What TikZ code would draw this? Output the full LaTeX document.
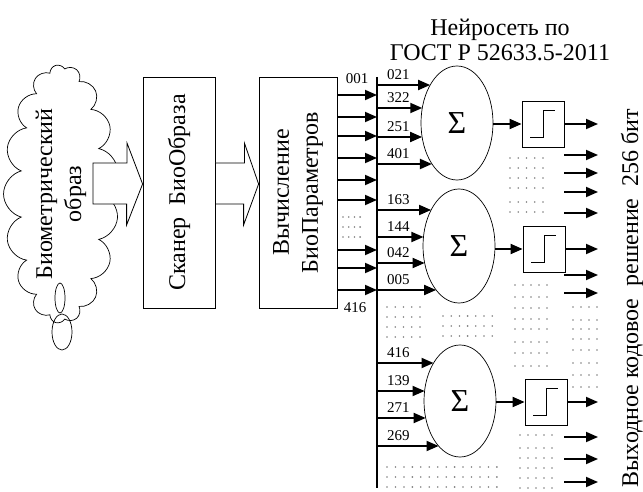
\documentclass[tikz,border=0pt]{standalone}
\usepackage{fontspec}
\setmainfont{Liberation Serif}
\usetikzlibrary{arrows.meta, shapes.geometric, shapes.symbols}

% rows of grey dots: first x, number of columns, column step, list of row y
\newcommand{\dotrows}[4]{%
    \foreach \r in {#4}{%
        \foreach \c in {1,...,#2}{%
            \fill[gray] ({#1+(\c-1)*#3}, \r) circle (0.9pt);
        }
    }%
}

\begin{document}
\begin{tikzpicture}[x=1pt, y=-1pt,
    wire/.style={line width=1.8pt, -{Triangle[length=12pt, width=10pt]}},
    numlabel/.style={font=\fontsize{15}{15}\selectfont, inner sep=0pt},
    bigtext/.style={font=\fontsize{24}{29}\selectfont, align=center},
    neuron/.style={draw, ellipse, line width=0.7pt, minimum width=72pt, minimum height=114pt, inner sep=0pt, font=\fontsize{32}{32}\selectfont},
    stepbox/.style={draw, line width=0.8pt, minimum width=42pt, minimum height=46pt, inner sep=0pt}]
    \useasboundingbox (0,0) rectangle (643,492);
    \pgfmathsetmacro{\rx}{36}
    \pgfmathsetmacro{\ry}{57}

    % Source and the two blocks
    \node[draw, cloud, cloud puffs=17, cloud ignores aspect, rotate=90, minimum width=258pt, minimum height=98pt, line width=0.7pt, bigtext] (cloud) at (61,194) {Биометрический\\образ};
    \draw[line width=0.7pt] (60,298) ellipse (5pt and 15pt);
    \draw[line width=0.7pt] (62,332) ellipse (10pt and 18pt);
    \node[draw, line width=0.8pt, minimum width=231pt, minimum height=72pt, rotate=90, bigtext] (scan) at (179,192.5) {Сканер~ БиоОбраза};
    \node[draw, line width=0.8pt, minimum width=231pt, minimum height=78pt, rotate=90, bigtext] (calc) at (298,192.5) {Вычисление\\БиоПараметров};

    % Block arrows
    \draw[line width=0.8pt, fill=white] (93,163) -- ++(34,0) -- ++(0,-20) -- (scan.north |- 0,184) -- ++(-16,41) -- ++(0,-21) -- (93,204) -- cycle;
    \draw[line width=0.8pt, fill=white] (scan.south |- 0,163) -- ++(29,0) -- ++(0,-20) -- (calc.north |- 0,184) -- ++(-15,41) -- ++(0,-21) -- (scan.south |- 0,204) -- cycle;

    % Bus
    \coordinate (bustop) at (377,77);
    \coordinate (busbot) at (377,488);
    \draw[line width=2pt] (bustop) -- (busbot);
    \foreach \y in {95,117,136,158,180,200,250,268,290}{
        \draw[wire] (calc.south |- 0,\y) -- (bustop |- 0,\y);
    }
    \node[numlabel] at (357,79) {001};
    \node[numlabel] at (355,308) {416};
    \dotrows{343}{4}{5.7}{217,227,237}

    % Title
    \node[bigtext, font=\fontsize{24}{25}\selectfont] (title) at (500,40) {Нейросеть по\\ГОСТ Р 52633.5-2011};

    % Neurons
    \node[neuron] (n1) at (457,123) {Σ};
    \node[neuron] (n2) at (459,246) {Σ};
    \node[neuron, minimum height=112pt] (n3) at (460,401) {Σ};
    \foreach \y/\lab in {85/021, 108/322, 137/251, 164/401}{
        \pgfmathsetmacro{\ex}{457-\rx*sqrt(1-((\y-123)/\ry)^2)}
        \draw[wire] (bustop |- 0,\y) -- (\ex,\y);
        \node[numlabel, anchor=west] at (387,\y-10) {\lab};
    }
    \foreach \y/\lab in {210/163, 237/144, 263/042, 290/005}{
        \pgfmathsetmacro{\ex}{459-\rx*sqrt(1-((\y-246)/\ry)^2)}
        \draw[wire] (bustop |- 0,\y) -- (\ex,\y);
        \node[numlabel, anchor=west] at (387,\y-10) {\lab};
    }
    \foreach \y/\lab in {363/416, 391/139, 418/271, 446/269}{
        \pgfmathsetmacro{\ex}{460-\rx*sqrt(1-((\y-401)/56)^2)}
        \draw[wire] (bustop |- 0,\y) -- (\ex,\y);
        \node[numlabel, anchor=west] at (387,\y-10) {\lab};
    }

    % Threshold blocks
    \node[stepbox] (t1) at (543,124) {};
    \node[stepbox] (t2) at (544,249) {};
    \node[stepbox] (t3) at (546,402) {};
    \foreach \t in {t1,t2,t3}{
        \draw[line width=0.8pt] ([shift={(-13,13)}]\t.center) -- ++(13,0) -- ++(0,-27) -- ++(12,0);
    }
    \draw[wire] (n1.east |- t1.west) -- (t1.west);
    \draw[wire] (n2.east |- t2.west) -- (t2.west);
    \draw[wire] (n3.east |- t3.west) -- (t3.west);

    % Outputs
    \coordinate (o1) at (598,124);
    \coordinate (o2) at (598,249);
    \coordinate (o3) at (598,402);
    \draw[wire] (t1.east) -- (o1);
    \draw[wire] (t2.east) -- (o2);
    \draw[wire] (t3.east) -- (o3);
    \foreach \y in {155,173,192,213,275,293,437,459,482}{
        \draw[wire] (564,\y) -- (598,\y);
    }
    \node[bigtext, rotate=90] (out) at (632,298) {Выходное кодовое~ решение~ 256 бит};

    % Dots
    \dotrows{387}{5}{8.25}{307,317,327,337}
    \dotrows{443}{7}{8.2}{316,326,336}
    \dotrows{387}{14}{8.45}{467,477,487}
    \dotrows{510}{5}{8.25}{158,168,178,188,202,212}
    \dotrows{515}{5}{8}{285,297,308,319,329,342,353,366}
    \dotrows{573}{4}{8}{307,320,329,339,350,363,375,387}
    \dotrows{520}{5}{8}{435,448,458,468,478,488}
\end{tikzpicture}
\end{document}
